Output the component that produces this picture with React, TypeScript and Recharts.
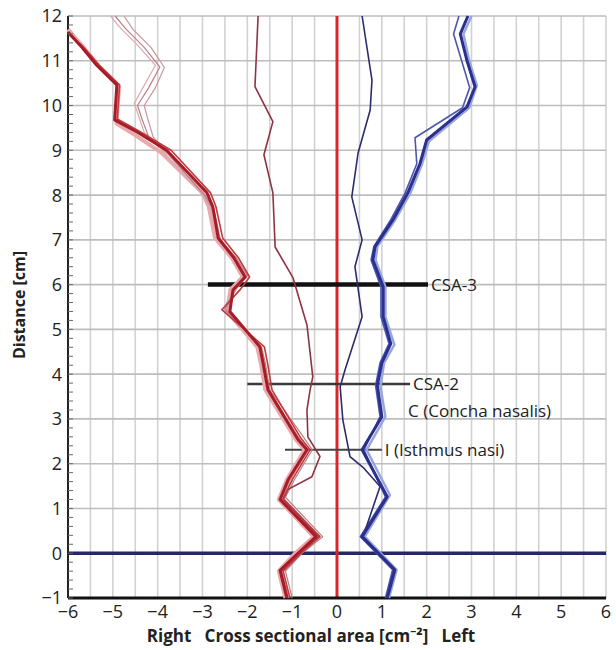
import React from 'react';
import {
  ScatterChart,
  Scatter,
  XAxis,
  YAxis,
  ReferenceLine,
} from 'recharts';

// axis ticks
const xTicks = [-6, -5, -4, -3, -2, -1, 0, 1, 2, 3, 4, 5, 6];
const yTicks = [-1, 0, 1, 2, 3, 4, 5, 6, 7, 8, 9, 10, 11, 12];
const gridX = [-6, -5.5, -5, -4.5, -4, -3.5, -3, -2.5, -2, -1.5, -1, -0.5, 0, 0.5, 1, 1.5, 2, 2.5, 3, 3.5, 4, 4.5, 5, 5.5, 6];

// [cross sectional area, distance] — right side (negative)
const rightMain = [
  [-1.12, -1.0], [-1.27, -0.38], [-0.87, 0.0], [-0.47, 0.37], [-1.27, 1.2], [-1.09, 1.64],
  [-0.67, 2.31], [-0.87, 2.54], [-1.54, 3.65], [-1.65, 4.25], [-1.72, 4.61], [-2.39, 5.4],
  [-2.32, 5.88], [-2.05, 6.17], [-2.3, 6.6], [-2.65, 7.04], [-2.77, 7.74], [-2.9, 8.05],
  [-3.8, 9.0], [-4.46, 9.41], [-4.96, 9.68], [-4.91, 10.46], [-5.36, 10.9], [-5.69, 11.3], [-6.0, 11.64],
];
const rightPair = [
  [-1.05, -1.0], [-1.2, -0.4], [-0.8, 0.0], [-0.38, 0.37], [-1.2, 1.22], [-1.0, 1.64],
  [-0.6, 2.31], [-0.8, 2.56], [-1.45, 3.65], [-1.55, 4.25], [-1.62, 4.61], [-2.57, 5.44],
  [-2.15, 5.9], [-1.95, 6.17], [-2.2, 6.6], [-2.55, 7.04], [-2.7, 7.74], [-2.82, 8.05],
  [-3.7, 9.0], [-4.4, 9.42], [-4.9, 9.7], [-4.85, 10.46], [-5.3, 10.9], [-5.65, 11.3], [-6.0, 11.62],
];
const rightBand = [
  [-1.15, -1.0], [-1.3, -0.4], [-0.93, 0.0], [-0.52, 0.37], [-1.3, 1.2], [-1.12, 1.64],
  [-0.72, 2.31], [-0.92, 2.54], [-1.6, 3.65], [-1.7, 4.25], [-1.78, 4.61], [-2.45, 5.4],
  [-2.38, 5.88], [-2.1, 6.17], [-2.35, 6.6], [-2.72, 7.04], [-2.86, 7.74], [-3.0, 8.05],
  [-3.92, 8.95], [-4.52, 9.35], [-4.92, 9.6], [-4.86, 10.42], [-5.3, 10.86], [-5.62, 11.26], [-6.0, 11.7],
];
const rightLightA = [
  [-1.0, -1.0], [-1.15, -0.4], [-0.78, 0.0], [-0.32, 0.37], [-1.15, 1.25], [-0.95, 1.64],
  [-0.55, 2.31], [-0.75, 2.6], [-1.5, 3.65], [-1.6, 4.25], [-1.68, 4.6], [-2.5, 5.45],
  [-2.25, 5.9], [-2.0, 6.2], [-2.25, 6.6], [-2.6, 7.0], [-2.75, 7.7], [-2.95, 8.0],
  [-3.75, 8.9], [-4.2, 9.3], [-4.35, 9.7], [-4.45, 10.0], [-4.2, 10.4], [-3.95, 10.86],
  [-4.3, 11.3], [-4.7, 11.7], [-4.95, 12.0],
];
const rightLightB = [
  [-1.08, -1.0], [-1.22, -0.4], [-0.84, 0.0], [-0.42, 0.37], [-1.22, 1.22], [-1.04, 1.64],
  [-0.64, 2.31], [-0.84, 2.56], [-1.52, 3.65], [-1.62, 4.25], [-1.7, 4.6], [-2.47, 5.42],
  [-2.3, 5.9], [-2.02, 6.18], [-2.28, 6.6], [-2.62, 7.02], [-2.8, 7.72], [-2.98, 8.02],
  [-3.7, 8.85], [-4.1, 9.3], [-4.22, 9.7], [-4.3, 10.0], [-4.05, 10.4], [-3.85, 10.85],
  [-4.15, 11.3], [-4.55, 11.7], [-4.75, 12.0],
];
const rightLightC = [
  [-1.1, -1.0], [-1.25, -0.4], [-0.9, 0.0], [-0.44, 0.37], [-1.25, 1.2], [-1.06, 1.64],
  [-0.66, 2.31], [-0.86, 2.55], [-1.56, 3.65], [-1.66, 4.25], [-1.74, 4.6], [-2.52, 5.42],
  [-2.34, 5.88], [-2.08, 6.18], [-2.32, 6.6], [-2.68, 7.02], [-2.82, 7.72], [-3.02, 8.02],
  [-3.85, 8.95], [-4.3, 9.4], [-4.42, 9.75], [-4.52, 10.05], [-4.3, 10.45], [-4.05, 10.9],
  [-4.45, 11.35], [-4.85, 11.75], [-5.05, 12.0],
];
const rightCentre = [
  [-1.1, -1.0], [-1.25, -0.4], [-0.85, 0.0], [-0.4, 0.37], [-1.2, 1.2], [-1.1, 1.42],
  [-0.56, 1.71], [-0.38, 2.16], [-0.65, 2.6], [-0.67, 3.2], [-0.6, 3.65], [-0.54, 3.94],
  [-0.67, 5.1], [-0.98, 6.15], [-1.38, 6.84], [-1.43, 8.05], [-1.63, 8.9], [-1.43, 9.64],
  [-1.83, 10.42], [-1.76, 12.0],
];

// left side (positive)
const leftMain = [
  [1.12, -1.0], [1.29, -0.37], [0.56, 0.37], [1.12, 1.26], [0.56, 2.31], [1.0, 3.05],
  [0.9, 3.75], [1.0, 4.25], [1.2, 4.68], [1.03, 5.28], [1.03, 5.95], [0.8, 6.55],
  [0.85, 6.85], [1.25, 7.45], [1.58, 8.05], [1.85, 8.7], [2.0, 9.23], [2.9, 9.97],
  [3.08, 10.42], [2.9, 11.0], [2.75, 11.6], [2.92, 12.0],
];
const leftPair = [
  [1.08, -1.0], [1.24, -0.37], [0.52, 0.37], [1.08, 1.26], [0.6, 2.31], [0.96, 3.05],
  [0.86, 3.75], [0.96, 4.25], [1.16, 4.68], [0.98, 5.28], [0.98, 5.95], [0.76, 6.55],
  [0.82, 6.85], [1.2, 7.45], [1.52, 8.05], [1.78, 8.7], [1.74, 9.28], [2.8, 9.95],
  [2.96, 10.4], [2.78, 11.0], [2.6, 11.6], [2.72, 12.0],
];
const leftLight = [
  [1.16, -1.0], [1.33, -0.37], [0.62, 0.37], [1.18, 1.3], [0.66, 2.31], [1.08, 3.05],
  [0.97, 3.72], [1.05, 4.25], [1.28, 4.66], [1.08, 5.28], [1.08, 5.95], [0.86, 6.55],
  [0.9, 6.85], [1.3, 7.45], [1.64, 8.05], [1.9, 8.7], [2.05, 9.2], [2.95, 9.95],
  [3.12, 10.45], [2.95, 11.0], [2.82, 11.6], [3.0, 12.0],
];
const leftCentre = [
  [1.12, -1.0], [1.27, -0.37], [0.58, 0.37], [0.96, 1.49], [0.6, 1.9], [0.29, 2.16],
  [0.13, 2.98], [0.07, 3.72], [0.18, 4.1], [0.56, 5.28], [0.4, 6.4], [0.56, 7.0],
  [0.33, 7.96], [0.47, 8.94], [0.74, 9.9], [0.78, 10.57], [0.56, 12.0],
];

// measurement planes: distance, start, end
const planes = [
  { name: 'CSA-3', y: 6.0, from: -2.88, to: 2.03, color: '#111', width: 4.5 },
  { name: 'CSA-2', y: 3.78, from: -2.0, to: 1.63, color: '#3a3a3a', width: 2.5, sub: 'C (Concha nasalis)' },
  { name: 'I (Isthmus nasi)', y: 2.31, from: -1.16, to: 1.0, color: '#444', width: 2 },
];

const series = [
  { data: rightBand, color: '#e9a9ad', width: 4 },
  { data: rightLightC, color: '#dcaab0', width: 1.2 },
  { data: rightLightB, color: '#c9959c', width: 1.2 },
  { data: rightLightA, color: '#b98088', width: 1.2 },
  { data: rightCentre, color: '#8c3345', width: 1.6 },
  { data: rightPair, color: '#c0393f', width: 1.6 },
  { data: rightMain, color: '#a81c26', width: 3 },
  { data: leftLight, color: '#98a6dc', width: 2.5 },
  { data: leftPair, color: '#4b56b0', width: 1.6 },
  { data: leftCentre, color: '#2c2c6e', width: 1.6 },
  { data: leftMain, color: '#2b2f8e', width: 3 },
];

const FONT = '"Open Sans", "Noto Sans", sans-serif';
const fmt = (v: number) => (v < 0 ? `\u2212${Math.abs(v)}` : `${v}`);
const minorTicks = yTicks.slice(0, -1).flatMap(t => [t, t + 0.2, t + 0.4, t + 0.6, t + 0.8]).concat([12]);
const toPoints = (arr: number[][]) => arr.map(([x, y]) => ({ x, y }));

const YTick = (props: any) => {
  const { x, y, payload } = props;
  const v = payload.value;
  const major = Math.abs(v - Math.round(v)) < 1e-6;
  const ax = x + 6;
  return (
    <g>
      <line x1={ax} x2={ax + 5} y1={y} y2={y} stroke="#666" strokeWidth={1} />
      {major && (
        <text x={x} y={y} dy="0.36em" textAnchor="end" fontSize={18} fill="#222" fontFamily={FONT}>
          {fmt(Math.round(v))}
        </text>
      )}
    </g>
  );
};

export default function App() {
  return (
    <div style={{ position: 'absolute', left: 0, top: 0, background: '#fff' }}>
      <ScatterChart width={616} height={650} margin={{ top: 16, right: 10, bottom: 0, left: 8 }}>
        {gridX.map(v => (
          <ReferenceLine key={`gx${v}`} x={v} stroke="#d2d2d2" strokeWidth={1.6} />
        ))}
        {yTicks.map(v => (
          <ReferenceLine key={`gy${v}`} y={v} stroke="#bdbdbd" strokeWidth={1.6} />
        ))}
        <XAxis
          type="number"
          dataKey="x"
          domain={[-6, 6]}
          ticks={xTicks}
          interval={0}
          tickFormatter={fmt}
          tickSize={0}
          tickMargin={7}
          height={52}
          axisLine={{ stroke: '#111', strokeWidth: 3 }}
          tick={{ fontSize: 18, fill: '#222', fontFamily: FONT }}
          label={{
            content: () => (
              <text x={311} y={642} textAnchor="middle" fontSize={17} fontWeight="bold" fill="#222" fontFamily={FONT} style={{ whiteSpace: 'pre' }}>
                {'Right   Cross sectional area [cm\u207B\u00B2]   Left'}
              </text>
            ),
          }}
        />
        <YAxis
          type="number"
          dataKey="y"
          domain={[-1, 12]}
          ticks={minorTicks}
          interval={0}
          tickSize={0}
          tickMargin={6}
          width={60}
          tick={<YTick />}
          axisLine={{ stroke: '#222', strokeWidth: 2 }}
          label={{
            content: () => (
              <text x={25} y={305} transform="rotate(-90 25 305)" textAnchor="middle" fontSize={16} fontWeight="bold" fill="#222" fontFamily={FONT}>
                Distance [cm]
              </text>
            ),
          }}
        />
        {series.map((s, i) => (
          <Scatter
            key={i}
            data={toPoints(s.data)}
            line={{ stroke: s.color, strokeWidth: s.width, strokeLinejoin: 'round' }}
            shape={() => <g />}
            isAnimationActive={false}
            legendType="none"
          />
        ))}
        <ReferenceLine y={0} stroke="#25276a" strokeWidth={3.5} />
        <ReferenceLine x={0} stroke="#d8262b" strokeWidth={3} />
        {planes.map(p => (
          <ReferenceLine
            key={p.name}
            segment={[{ x: p.from, y: p.y }, { x: p.to, y: p.y }]}
            stroke={p.color}
            strokeWidth={p.width}
            label={{
              content: (props: any) => {
                const vb = props.viewBox || {};
                const tx = (vb.x ?? 0) + (vb.width ?? 0) + 3;
                const ty = (vb.y ?? 0) + (vb.height ?? 0) / 2;
                return (
                  <g>
                    <text x={tx} y={ty} dy="0.36em" fontSize={17} fill="#222" fontFamily={FONT}>{p.name}</text>
                    {p.sub && (
                      <text x={tx - 5} y={ty + 27} dy="0.36em" fontSize={17} fill="#222" fontFamily={FONT}>{p.sub}</text>
                    )}
                  </g>
                );
              },
            }}
          />
        ))}
      </ScatterChart>
    </div>
  );
}
